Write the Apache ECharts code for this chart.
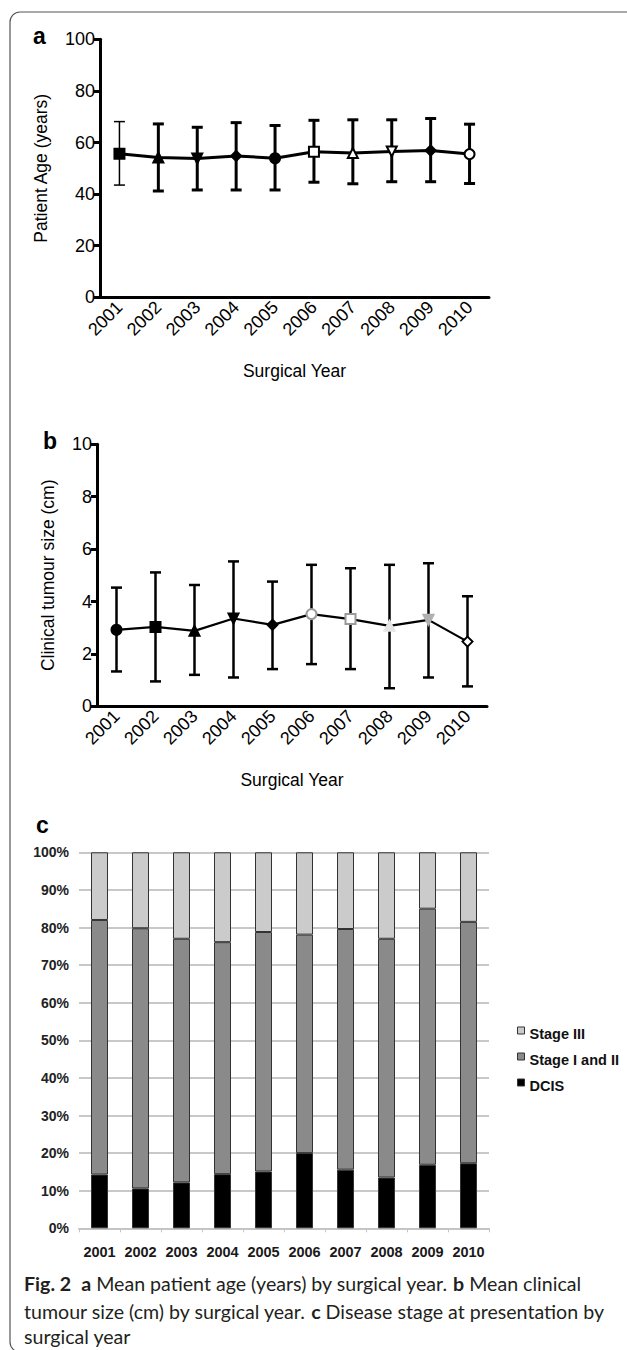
<!DOCTYPE html>
<html><head><meta charset="utf-8">
<script src="https://cdn.jsdelivr.net/npm/echarts@6/dist/echarts.min.js"></script>
<style>html,body{margin:0;padding:0;background:#fff}#c{width:627px;height:1350px}</style>
</head><body><div id="c"></div>
<script>
// ---------- data ----------
const years = ['2001','2002','2003','2004','2005','2006','2007','2008','2009','2010'];
const ageMean = [55.6,54.2,53.8,54.8,53.9,56.4,55.9,56.5,56.9,55.5];
const ageHigh = [68.1,67.2,65.9,67.7,66.6,68.6,68.8,68.8,69.3,67.1];
const ageLow  = [43.5,41.2,41.6,41.6,41.6,44.6,44.0,44.8,44.8,44.1];
const sizeMean = [2.92,3.03,2.88,3.35,3.11,3.52,3.33,3.07,3.30,2.47];
const sizeHigh = [4.53,5.11,4.63,5.53,4.76,5.40,5.27,5.40,5.46,4.20];
const sizeLow  = [1.33,0.95,1.20,1.10,1.42,1.61,1.42,0.69,1.10,0.76];
const dcis      = [14.3,10.6,12.2,14.4,15.1,20.0,15.6,13.5,16.9,17.3];
const stageI_II = [67.7,69.2,64.8,61.7,63.7,58.1,64.0,63.5,68.1,64.2];
const stageIII  = [18.0,20.2,23.0,23.9,21.2,21.9,20.4,23.0,15.0,18.5];

// ---------- styles ----------
const F = "'Liberation Sans', Arial, sans-serif";
const aSym = [
  {s:'rect',f:'#000',b:'#000'},{s:'triangle',f:'#000',b:'#000'},{s:'triangle',r:180,f:'#000',b:'#000'},
  {s:'diamond',f:'#000',b:'#000'},{s:'circle',f:'#000',b:'#000'},{s:'rect',f:'#fff',b:'#000'},
  {s:'triangle',f:'#fff',b:'#000'},{s:'triangle',r:180,f:'#fff',b:'#000'},{s:'diamond',f:'#000',b:'#000'},
  {s:'circle',f:'#fff',b:'#000'}];
const bSym = [
  {s:'circle',f:'#000',b:'#000'},{s:'rect',f:'#000',b:'#000'},{s:'triangle',f:'#000',b:'#000'},
  {s:'triangle',r:180,f:'#000',b:'#000'},{s:'diamond',f:'#000',b:'#000'},{s:'circle',f:'#fff',b:'#999'},
  {s:'rect',f:'#fff',b:'#999'},{s:'triangle',f:'#e4e4e4',b:'#e4e4e4'},{s:'triangle',r:180,f:'#b0b0b0',b:'#b0b0b0'},
  {s:'diamond',f:'#fff',b:'#000'}];
const aErrW = [1.5,3,3,3,3,3,3,3,3,3];
const legendIcon = 'path://M0,0L7,0L7,7L0,7ZM0,13L0.01,13';

function pts(vals, sym, size){
  return vals.map((v,i)=>({value:v, symbol:sym[i].s, symbolRotate:sym[i].r||0, symbolSize:size,
    itemStyle:{color:sym[i].f, borderColor:sym[i].b, borderWidth:2}}));
}
function errSeries(lo, hi, xi, yi, widths){
  return {type:'custom', xAxisIndex:xi, yAxisIndex:yi, z:1, silent:true,
    data: lo.map((l,i)=>[i,l,hi[i]]),
    encode:{x:0,y:[1,2]},
    renderItem:function(params, api){
      const i = api.value(0);
      const a = api.coord([i, api.value(1)]);
      const b = api.coord([i, api.value(2)]);
      const w = 5.5, lw = widths[i];
      const st = {stroke:'#000', lineWidth:lw};
      return {type:'group', children:[
        {type:'line', shape:{x1:a[0],y1:a[1],x2:b[0],y2:b[1]}, style:st},
        {type:'line', shape:{x1:a[0]-w,y1:a[1],x2:a[0]+w,y2:a[1]}, style:st},
        {type:'line', shape:{x1:b[0]-w,y1:b[1],x2:b[0]+w,y2:b[1]}, style:st}
      ]};
    }};
}
function lineXAxis(gi){
  return {type:'category', gridIndex:gi, data:years, boundaryGap:true,
    name:'Surgical Year', nameLocation:'middle', nameGap:65,
    nameTextStyle:{fontFamily:F, fontSize:17.5, color:'#000'},
    axisLine:{lineStyle:{color:'#000', width:3}},
    axisTick:{alignWithLabel:true, length:8, lineStyle:{width:3, color:'#000'}},
    axisLabel:{interval:0, rotate:45, fontFamily:F, fontSize:18, color:'#000', margin:7}};
}
function lineYAxis(gi, max, iv, name, gap){
  return {type:'value', gridIndex:gi, min:0, max:max, interval:iv,
    name:name, nameLocation:'middle', nameGap:gap,
    nameTextStyle:{fontFamily:F, fontSize:17.5, color:'#000'},
    axisLine:{show:true, lineStyle:{color:'#000', width:3}},
    axisTick:{show:true, length:6, lineStyle:{width:3, color:'#000'}},
    splitLine:{show:false},
    axisLabel:{fontFamily:F, fontSize:18, color:'#000', margin:5}};
}

const chart = echarts.init(document.getElementById('c'), null, {renderer:'svg'});
const CF = "Lato, 'Open Sans', sans-serif";
const capStyle = {fontFamily:CF, fontSize:19.6, fill:'#231f20'};
const rich = {b:{fontWeight:'bold', fontFamily:CF, fontSize:19.6, fill:'#231f20'}};
function capLine(y, text){
  return {type:'text', left:24, top:y-12, style:Object.assign({text:text, rich:rich}, capStyle)};
}
chart.setOption({
  animation:false,
  grid:[
    {left:100, top:39.3, width:389, height:258, containLabel:false},
    {left:97, top:444.3, width:390, height:262, containLabel:false},
    {left:79, top:852.3, width:410, height:376, containLabel:false}
  ],
  xAxis:[
    lineXAxis(0), lineXAxis(1),
    {type:'category', gridIndex:2, data:years, boundaryGap:true,
     axisLine:{lineStyle:{color:'#c4c4c4', width:2}},
     axisTick:{show:true, length:4, lineStyle:{color:'#c4c4c4', width:1}},
     axisLabel:{interval:0, fontFamily:F, fontWeight:'bold', fontSize:14.5, color:'#1a1a1a', margin:16}}
  ],
  yAxis:[
    lineYAxis(0, 100, 20, 'Patient Age (years)', 50),
    lineYAxis(1, 10, 2, 'Clinical tumour size (cm)', 40),
    {type:'value', gridIndex:2, min:0, max:100, interval:10,
     axisLine:{show:false}, axisTick:{show:false},
     splitLine:{lineStyle:{color:'#c8c8c8', width:2}},
     axisLabel:{formatter:'{value}%', fontFamily:F, fontWeight:'bold', fontSize:14, color:'#222', margin:10}}
  ],
  legend:{orient:'vertical', left:512, top:1021, itemWidth:7, itemHeight:13, itemGap:11,
    icon:legendIcon,
    data:['Stage III','Stage I and II','DCIS'],
    textStyle:{fontFamily:F, fontWeight:'bold', fontSize:14.5, color:'#111'},
    itemStyle:{borderColor:'#333', borderWidth:1}},
  series:[
    errSeries(ageLow, ageHigh, 0, 0, aErrW),
    {type:'line', xAxisIndex:0, yAxisIndex:0, z:3, data:pts(ageMean, aSym, 10),
     lineStyle:{color:'#000', width:3}, showAllSymbol:true},
    errSeries(sizeLow, sizeHigh, 1, 1, years.map(()=>2.5)),
    {type:'line', xAxisIndex:1, yAxisIndex:1, z:3, data:pts(sizeMean, bSym, 10),
     lineStyle:{color:'#000', width:2.2}, showAllSymbol:true},
    {type:'bar', name:'DCIS', xAxisIndex:2, yAxisIndex:2, stack:'s', barWidth:17, data:dcis,
     itemStyle:{color:'#000', borderColor:'#333', borderWidth:1}},
    {type:'bar', name:'Stage I and II', xAxisIndex:2, yAxisIndex:2, stack:'s', barWidth:17, data:stageI_II,
     itemStyle:{color:'#8a8a8a', borderColor:'#333', borderWidth:1}},
    {type:'bar', name:'Stage III', xAxisIndex:2, yAxisIndex:2, stack:'s', barWidth:17, data:stageIII,
     itemStyle:{color:'#cbcbcb', borderColor:'#333', borderWidth:1}}
  ],
  graphic:[
    {type:'rect', shape:{x:10, y:12, width:700, height:1340, r:10}, style:{fill:'none', stroke:'#555', lineWidth:1.2}, silent:true},
    {type:'text', left:33, top:24, style:{text:'a', fontFamily:F, fontWeight:'bold', fontSize:23, fill:'#000'}},
    {type:'text', left:43, top:429, style:{text:'b', fontFamily:F, fontWeight:'bold', fontSize:23, fill:'#000'}},
    {type:'text', left:36, top:813, style:{text:'c', fontFamily:F, fontWeight:'bold', fontSize:23, fill:'#000'}},
    capLine(1285, '{b|Fig. 2}  {b|a} Mean patient age (years) by surgical year. {b|b} Mean clinical'),
    capLine(1313, 'tumour size (cm) by surgical year. {b|c} Disease stage at presentation by'),
    capLine(1338, 'surgical year')
  ]
});
</script></body></html>
